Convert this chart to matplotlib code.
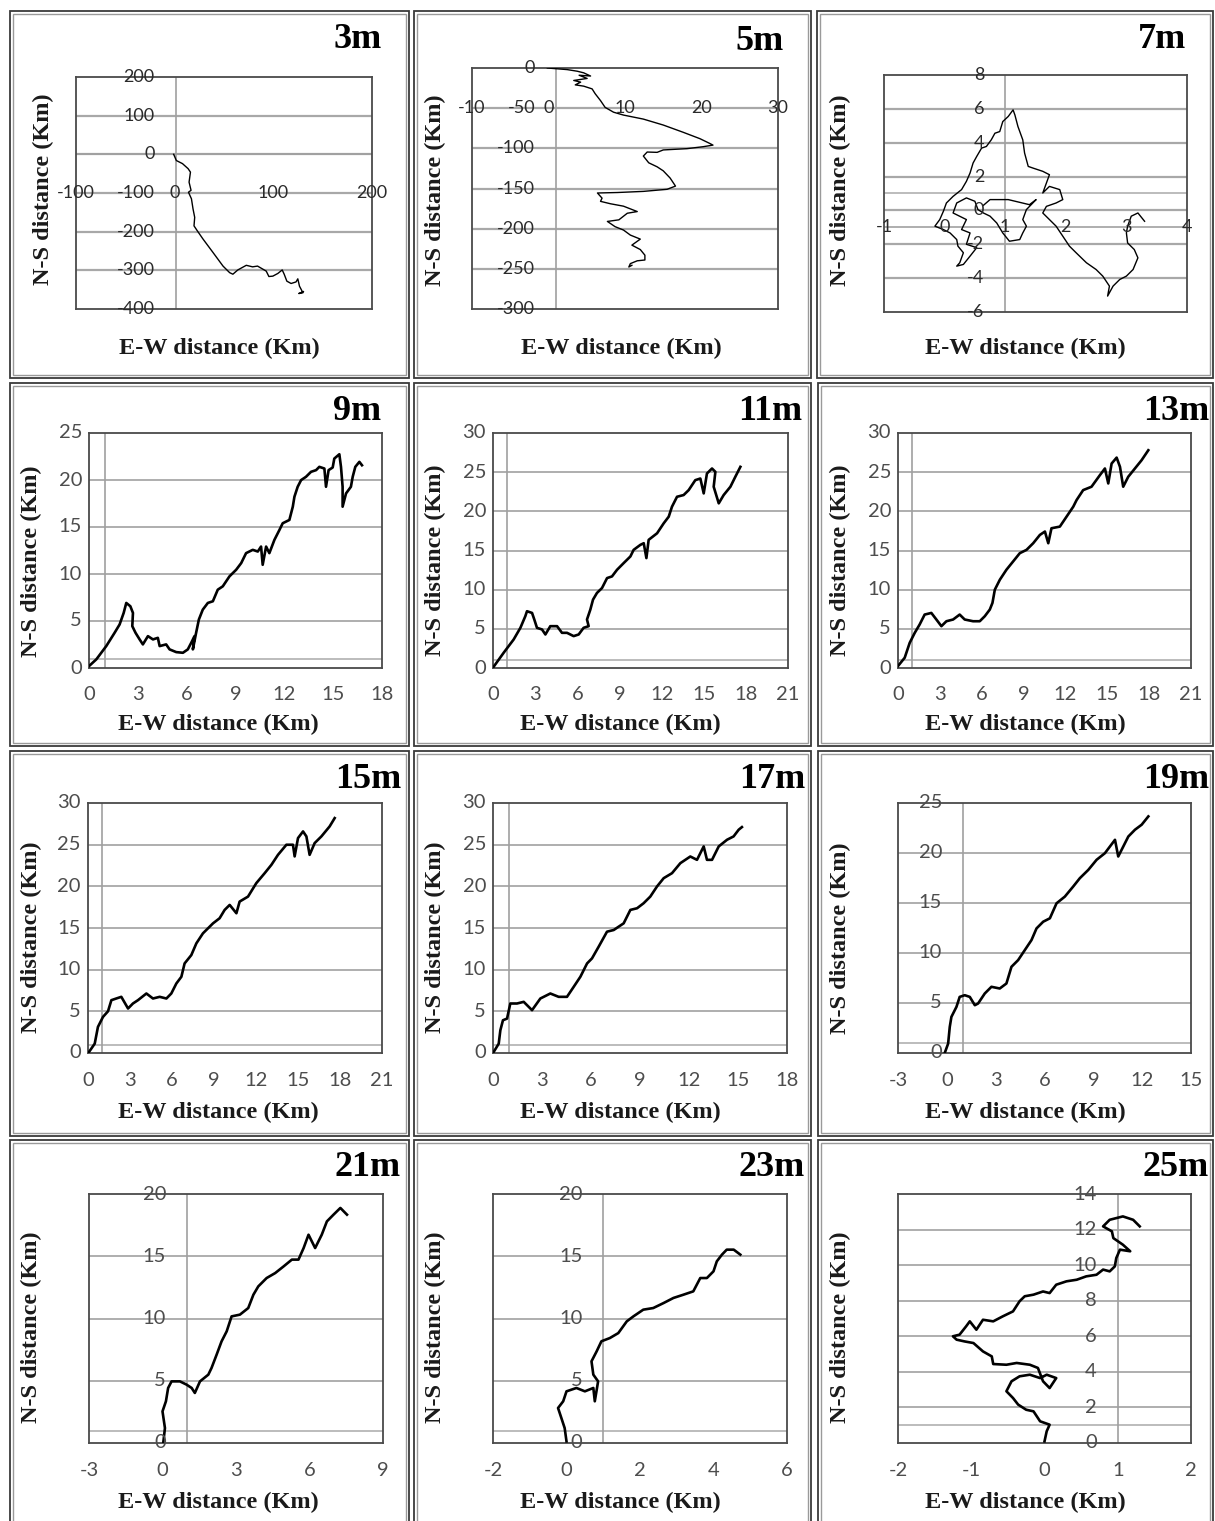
import matplotlib
matplotlib.use("Agg")
import matplotlib.pyplot as plt
from matplotlib.patches import Rectangle

# ---------------- data (E-W, N-S distance in Km) ----------------
panel_names = ["3m", "5m", "7m", "9m", "11m", "13m", "15m", "17m", "19m", "21m", "23m", "25m"]

ew_3m = [-1, 1.7, 7.9, 13.6, 16, 14.6, 16.6, 14, 17, 18.6, 20.3, 19.6, 23, 28.7, 38.9, 49, 55.7, 59, 64,
         72.6, 79, 84, 92.8, 95.5, 99.5, 104.6, 109, 111, 113.7, 118, 123, 124.8, 126.5, 130, 125.8, 130.5]
ns_3m = [0, -16, -24, -37, -46, -72, -93, -98, -115, -141, -163, -185, -198, -219, -254, -289, -306, -310, -299,
         -287, -291, -289, -302, -316, -315, -308, -299, -310, -328, -334, -330, -322, -341, -358, -360, -355]

ew_5m = [-0.15, 1.15, 2.45, 3.75, 4.6, 5.5, 4.0, 5.05, 3.3, 4.2, 3.5, 4.6, 5.7, 6.1, 6.8, 7.4, 8.5, 9.8, 12.4,
         15.0, 17.6, 19.8, 21.1, 21.5, 20.2, 18.1, 15.0, 14.2, 12.9, 12.4, 13.1, 14.2, 15.0, 15.9, 16.6, 15.5,
         12.4, 9.0, 6.4, 7.0, 6.8, 8.1, 9.8, 11.6, 10.3, 9.2, 7.7, 8.7, 9.8, 10.7, 12.0, 10.9, 12.0, 12.6, 12.6,
         11.6, 10.7, 10.5, 10.9]
ns_5m = [0, -1, -2, -4, -6, -10, -9, -13, -15.5, -17.6, -21, -22.6, -26, -32, -40.6, -49, -55, -58.6, -63.6,
         -71, -80, -88, -94, -96, -98, -100.4, -102, -105, -104.6, -109.6, -118, -123, -128, -137, -147, -151,
         -153.6, -155, -155.6, -162, -166, -169, -172, -178.7, -180.8, -189, -191, -197.5, -201.7, -208, -213,
         -220.5, -226, -233, -239, -240, -243.5, -247.7, -245.6]

ew_7m = [3.30, 3.19, 3.08, 3.02, 3.00, 3.02, 3.13, 3.19, 3.11, 3.00, 2.89, 2.78, 2.69, 2.72, 2.61, 2.50, 2.34,
         2.17, 2.06, 1.95, 1.84, 1.73, 1.62, 1.68, 1.84, 1.95, 1.90, 1.73, 1.62, 1.73,
         1.62, 1.46, 1.38, 1.32, 1.29, 1.21, 1.16, 1.13, 1.05, 0.96, 0.91, 0.83, 0.77, 0.69, 0.61, 0.53, 0.47,
         0.42, 0.36, 0.28, 0.14, 0.03, -0.02, -0.08, -0.16, -0.02, 0.09, 0.20, 0.22, 0.31, 0.25, 0.20, 0.31,
         0.42, 0.53, 0.36, 0.42, 0.28, 0.36, 0.14, 0.20, 0.36, 0.50, 0.55, 0.64, 0.75, 0.86, 0.96, 1.07, 1.24,
         1.29, 1.35, 1.29, 1.35, 1.51, 1.40, 1.05, 0.75, 0.64]
ns_7m = [-0.64, -0.15, -0.34, -0.93, -1.33, -1.92, -2.31, -2.80, -3.49, -3.88, -4.08, -4.47, -5.06, -4.47,
         -3.88, -3.49, -3.09, -2.50, -2.11, -1.52, -0.93, -0.54, -0.15, 0.24, 0.44, 0.64, 1.23, 1.42, 1.03, 2.11,
         2.31, 2.50, 2.60, 3.39, 4.17, 4.96, 5.64, 5.94, 5.55, 5.25, 4.66, 4.56, 4.17, 3.78, 3.68, 3.19, 2.80,
         2.21, 1.72, 1.23, 0.83, 0.44, -0.05, -0.54, -0.93, -1.13, -1.33, -1.72, -2.11, -2.50, -3.09, -3.29,
         -3.19, -2.70, -2.20, -2.00, -1.33, -1.13, -0.54, -0.15, 0.44, 0.74, 0.54, 0.05, -0.15, -0.34, -0.74,
         -1.33, -1.82, -1.72, -1.33, -0.93, -0.54, 0.05, 0.64, 0.34, 0.64, 0.64, 0.30]

ew_9m = [0, 0.45, 1.06, 1.57, 1.88, 2.13, 2.29, 2.54, 2.70, 2.66, 2.86, 3.11, 3.31, 3.62, 3.93, 4.23, 4.34,
         4.74, 4.95, 5.36, 5.77, 6.07, 6.28, 6.48, 6.38, 6.58, 6.75, 6.99, 7.30, 7.61, 7.91, 8.22, 8.63, 9.04,
         9.35, 9.65, 10.06, 10.37, 10.57, 10.67, 10.88, 11.08, 11.39, 11.70, 11.90, 12.31, 12.52, 12.62, 12.82,
         13.03, 13.33, 13.64, 13.95, 14.15, 14.46, 14.56, 14.72, 14.97, 15.07, 15.38, 15.48, 15.58, 15.58,
         15.79, 16.09, 16.20, 16.36, 16.61, 16.77]
ns_9m = [0.2, 0.92, 2.33, 3.74, 4.63, 5.86, 6.92, 6.57, 5.86, 4.45, 3.74, 3.04, 2.51, 3.39, 3.04, 3.21, 2.33,
         2.51, 1.98, 1.69, 1.62, 1.98, 2.68, 3.39, 1.98, 3.74, 5.16, 6.21, 6.92, 7.10, 8.33, 8.69, 9.75, 10.45,
         11.16, 12.22, 12.57, 12.39, 12.92, 10.98, 12.92, 12.22, 13.63, 14.69, 15.40, 15.75, 17.16, 18.22,
         19.28, 19.99, 20.34, 20.87, 21.05, 21.40, 21.22, 19.28, 21.05, 21.33, 22.28, 22.74, 21.40, 19.28,
         17.16, 18.57, 19.28, 20.34, 21.40, 21.93, 21.57]

ew_11m = [0.05, 0.76, 1.47, 1.95, 2.30, 2.42, 2.78, 2.94, 3.13, 3.49, 3.73, 4.08, 4.56, 4.91, 5.27, 5.74, 6.10,
          6.45, 6.81, 6.69, 6.93, 7.12, 7.40, 7.76, 8.12, 8.47, 8.83, 9.30, 9.78, 10.01, 10.49, 10.73, 10.92,
          11.08, 11.68, 12.15, 12.51, 12.74, 13.10, 13.57, 13.93, 14.40, 14.76, 15.00, 15.23, 15.59, 15.83,
          15.71, 16.07, 16.42, 16.90, 17.25, 17.61]
ns_11m = [0.17, 1.95, 3.64, 5.13, 6.61, 7.25, 7.03, 6.19, 5.13, 4.92, 4.28, 5.34, 5.34, 4.49, 4.49, 4.07, 4.28,
          5.13, 5.34, 6.19, 7.46, 8.73, 9.58, 10.21, 11.48, 11.69, 12.54, 13.39, 14.24, 15.08, 15.72, 15.93,
          14.03, 16.36, 17.20, 18.47, 19.32, 20.59, 21.86, 22.08, 22.71, 23.98, 24.19, 22.29, 24.83, 25.47,
          25.04, 23.14, 21.02, 22.08, 23.14, 24.41, 25.68]

ew_13m = [0, 0.48, 0.84, 1.20, 1.55, 1.91, 2.39, 2.75, 3.11, 3.47, 3.95, 4.42, 4.78, 5.38, 5.86, 6.22, 6.58,
          6.77, 6.94, 7.30, 7.77, 8.25, 8.73, 9.21, 9.69, 10.17, 10.53, 10.77, 11.00, 11.60, 12.08, 12.56, 12.80,
          13.27, 13.87, 14.47, 14.83, 15.07, 15.31, 15.67, 15.91, 16.14, 16.50, 16.98, 17.46, 17.94]
ns_13m = [0.25, 1.31, 3.22, 4.49, 5.55, 6.82, 7.03, 6.19, 5.34, 5.97, 6.19, 6.82, 6.19, 5.97, 5.97, 6.61, 7.46,
          8.31, 10.00, 11.27, 12.54, 13.60, 14.66, 15.08, 15.93, 16.99, 17.42, 15.93, 17.84, 18.05, 19.32, 20.59,
          21.44, 22.71, 23.14, 24.62, 25.47, 23.56, 26.10, 26.86, 25.68, 23.14, 24.41, 25.47, 26.53, 27.80]

ew_15m = [0.07, 0.48, 0.71, 1.07, 1.43, 1.67, 2.02, 2.38, 2.86, 3.21, 3.57, 4.17, 4.64, 5.12, 5.60, 5.95, 6.31,
          6.67, 6.90, 7.38, 7.74, 8.21, 8.93, 9.40, 9.76, 10.12, 10.60, 10.83, 11.43, 12.02, 12.62, 13.10, 13.57,
          14.17, 14.64, 14.76, 15.00, 15.36, 15.60, 15.83, 16.19, 16.67, 17.26, 17.62]
ns_15m = [0.12, 1.12, 3.13, 4.33, 5.01, 6.34, 6.54, 6.74, 5.34, 5.94, 6.34, 7.14, 6.54, 6.74, 6.54, 7.14, 8.34,
          9.15, 10.75, 11.75, 13.16, 14.36, 15.56, 16.17, 17.17, 17.77, 16.77, 18.17, 18.77, 20.38, 21.58, 22.58,
          23.78, 24.99, 24.99, 23.59, 25.79, 26.59, 25.99, 23.78, 25.19, 25.99, 27.19, 28.19]

ew_17m = [0.04, 0.35, 0.45, 0.61, 0.86, 1.06, 1.47, 1.88, 2.39, 2.90, 3.51, 4.02, 4.53, 4.94, 5.35, 5.76, 6.06,
          6.47, 6.98, 7.39, 8.00, 8.41, 8.82, 9.22, 9.63, 10.04, 10.45, 10.96, 11.47, 12.08, 12.49, 12.90, 13.10,
          13.41, 13.82, 14.33, 14.73, 15.04, 15.24]
ns_17m = [0.12, 1.12, 2.73, 3.93, 4.13, 5.94, 5.94, 6.14, 5.14, 6.54, 7.14, 6.74, 6.74, 7.94, 9.15, 10.75, 11.35,
          12.76, 14.56, 14.76, 15.56, 17.17, 17.37, 17.97, 18.77, 19.98, 20.98, 21.58, 22.78, 23.58, 23.18, 24.79,
          23.18, 23.18, 24.79, 25.59, 25.99, 26.79, 27.11]

ew_19m = [-0.13, 0.08, 0.18, 0.28, 0.59, 0.79, 1.10, 1.41, 1.72, 1.92, 2.33, 2.74, 3.25, 3.66, 3.97, 4.38, 4.79,
          5.20, 5.51, 5.92, 6.33, 6.74, 7.25, 7.76, 8.17, 8.69, 9.20, 9.71, 10.02, 10.33, 10.53, 10.84, 11.15,
          11.56, 11.97, 12.38]
ns_19m = [0, 0.94, 2.61, 3.61, 4.61, 5.61, 5.78, 5.61, 4.78, 4.95, 5.95, 6.62, 6.45, 6.95, 8.62, 9.29, 10.29,
          11.29, 12.46, 13.13, 13.47, 14.97, 15.64, 16.64, 17.48, 18.31, 19.32, 19.98, 20.65, 21.32, 19.65, 20.65,
          21.65, 22.33, 22.83, 23.66]

ew_21m = [0.03, 0.10, 0.00, 0.14, 0.23, 0.37, 0.71, 0.98, 1.19, 1.32, 1.53, 1.87, 2.00, 2.21, 2.41, 2.62, 2.82,
          3.16, 3.50, 3.71, 3.91, 4.25, 4.60, 4.94, 5.28, 5.55, 5.76, 5.96, 6.23, 6.50, 6.71, 6.98, 7.26, 7.53]
ns_21m = [0, 1.20, 2.54, 3.35, 4.42, 4.95, 4.95, 4.69, 4.42, 4.02, 4.95, 5.49, 6.02, 7.10, 8.16, 8.97, 10.17,
          10.31, 10.84, 11.91, 12.58, 13.25, 13.65, 14.18, 14.73, 14.73, 15.66, 16.73, 15.66, 16.73, 17.80, 18.34,
          18.88, 18.34]

ew_23m = [0.00, -0.05, -0.14, -0.23, -0.09, 0.00, 0.27, 0.50, 0.73, 0.77, 0.86, 0.73, 0.68, 0.82, 0.95, 1.18,
          1.41, 1.64, 1.82, 2.09, 2.36, 2.64, 2.91, 3.18, 3.45, 3.64, 3.82, 4.00, 4.09, 4.23, 4.36, 4.55, 4.73]
ns_23m = [0.13, 1.20, 2.01, 2.81, 3.35, 4.15, 4.42, 4.15, 4.42, 3.35, 4.95, 5.49, 6.56, 7.36, 8.17, 8.43, 8.83,
          9.77, 10.17, 10.71, 10.84, 11.24, 11.65, 11.91, 12.18, 13.25, 13.25, 13.79, 14.59, 15.13, 15.53, 15.53,
          15.13]

ew_25m = [0.00, 0.03, 0.07, -0.06, -0.15, -0.25, -0.36, -0.43, -0.52, -0.45, -0.34, -0.20, -0.06, 0.03, 0.16,
          0.07, -0.02, -0.09, -0.20, -0.38, -0.52, -0.70, -0.72, -0.84, -0.97, -1.09, -1.20, -1.25, -1.16, -1.07,
          -1.02, -0.93, -0.84, -0.70, -0.57, -0.43, -0.34, -0.27, -0.15, -0.02, 0.07, 0.16, 0.30, 0.44, 0.57,
          0.71, 0.80, 0.89, 0.96, 0.98, 1.03, 1.17, 1.07, 0.94, 0.92, 0.80, 0.89, 1.07, 1.21, 1.30]
ns_25m = [0.09, 0.66, 1.03, 1.22, 1.78, 1.87, 2.16, 2.53, 2.91, 3.47, 3.75, 3.84, 3.65, 3.84, 3.65, 3.09, 3.47,
          4.22, 4.40, 4.50, 4.40, 4.44, 4.87, 5.15, 5.62, 5.71, 5.81, 6.00, 6.09, 6.56, 6.84, 6.37, 6.93, 6.84,
          7.12, 7.40, 7.97, 8.25, 8.34, 8.52, 8.43, 8.90, 9.09, 9.18, 9.37, 9.46, 9.75, 9.65, 9.93, 10.40, 10.87,
          10.78, 11.15, 11.52, 11.90, 12.18, 12.55, 12.74, 12.55, 12.18]

ew_ticks_3m = [-100, 0, 100, 200]
ns_ticks_3m = [200, 100, 0, -100, -200, -300, -400]
ew_ticks_5m = [-10, 0, 10, 20, 30]
ns_ticks_5m = [0, -50, -100, -150, -200, -250, -300]
ew_ticks_7m = [-1, 0, 1, 2, 3, 4]
ns_ticks_7m = [8, 6, 4, 2, 0, -2, -4, -6]
ew_ticks_18 = [0, 3, 6, 9, 12, 15, 18]
ew_ticks_21 = [0, 3, 6, 9, 12, 15, 18, 21]
ns_ticks_25 = [0, 5, 10, 15, 20, 25]
ns_ticks_30 = [0, 5, 10, 15, 20, 25, 30]
ew_ticks_19m = [-3, 0, 3, 6, 9, 12, 15]
ew_ticks_21m = [-3, 0, 3, 6, 9]
ns_ticks_20 = [0, 5, 10, 15, 20]
ew_ticks_23m = [-2, 0, 2, 4, 6]
ew_ticks_25m = [-2, -1, 0, 1, 2]
ns_ticks_25m = [0, 2, 4, 6, 8, 10, 12, 14]

x_title = "E-W distance (Km)"
y_title = "N-S distance (Km)"

# ---------------- layout ----------------
W, H = 1215, 1521
fig = plt.figure(figsize=(W / 100, H / 100), dpi=100)
fig.patch.set_facecolor("white")

TICK_FONT = "Lato"
SERIF = "Liberation Serif"


def add_ax(l, t, r, b):
    return fig.add_axes([l / W, 1 - b / H, (r - l) / W, (b - t) / H])


def frame(l, t, r, b):
    fig.patches.append(Rectangle((l / W, 1 - b / H), (r - l) / W, (b - t) / H, transform=fig.transFigure,
                                 fill=False, ec="#3a3a3a", lw=1.3))
    d = 3
    fig.patches.append(Rectangle(((l + d) / W, 1 - (b - d) / H), (r - l - 2 * d) / W, (b - t - 2 * d) / H,
                                 transform=fig.transFigure, fill=False, ec="#9a9a9a", lw=1.0))


panels = [
    dict(ew=ew_3m, ns=ns_3m, box=(76, 77, 372, 309), xl=(-100, 200), yl=(-400, 200), xt=ew_ticks_3m,
         yt=ns_ticks_3m, xlab_y=-100, ylab="line", frame=(10, 11, 409, 378), title=(382, 40),
         xtl=(219, 348), ytl=(43, 189), lw=1.0, top=True, dark0=True),
    dict(ew=ew_5m, ns=ns_5m, box=(472, 68, 778, 309), xl=(-10, 30), yl=(-300, 0), xt=ew_ticks_5m,
         yt=ns_ticks_5m, xlab_y=-50, ylab="line", frame=(414, 11, 811, 378), title=(784, 42),
         xtl=(621, 348), ytl=(435, 190), lw=1.0, top=True),
    dict(ew=ew_7m, ns=ns_7m, box=(884, 75, 1187, 312), xl=(-1, 4), yl=(-6, 8), xt=ew_ticks_7m,
         yt=ns_ticks_7m, xlab_y=-1, ylab="line", frame=(817, 11, 1213, 378), title=(1186, 40),
         xtl=(1025, 348), ytl=(840, 190), lw=1.0, top=True, extra=[-1]),
    dict(ew=ew_9m, ns=ns_9m, box=(89, 433, 382, 668), xl=(0, 18), yl=(0, 25), xt=ew_ticks_18,
         yt=ns_ticks_25, xlab_y=None, ylab="left", frame=(10, 383, 409, 746), title=(381, 411),
         xtl=(218, 724), ytl=(31, 561), lw=1.9),
    dict(ew=ew_11m, ns=ns_11m, box=(493, 433, 788, 668), xl=(0, 21), yl=(0, 30), xt=ew_ticks_21,
         yt=ns_ticks_30, xlab_y=None, ylab="left", frame=(414, 383, 811, 746), title=(802, 411),
         xtl=(620, 724), ytl=(435, 560), lw=1.9),
    dict(ew=ew_13m, ns=ns_13m, box=(898, 433, 1191, 668), xl=(0, 21), yl=(0, 30), xt=ew_ticks_21,
         yt=ns_ticks_30, xlab_y=None, ylab="left", frame=(818, 383, 1213, 746), title=(1209, 411),
         xtl=(1025, 724), ytl=(840, 560), lw=1.9),
    dict(ew=ew_15m, ns=ns_15m, box=(88, 803, 382, 1053), xl=(0, 21), yl=(0, 30), xt=ew_ticks_21,
         yt=ns_ticks_30, xlab_y=None, ylab="left", frame=(10, 751, 409, 1136), title=(401, 779),
         xtl=(218, 1112), ytl=(31, 937), lw=1.9),
    dict(ew=ew_17m, ns=ns_17m, box=(493, 803, 787, 1053), xl=(0, 18), yl=(0, 30), xt=ew_ticks_18,
         yt=ns_ticks_30, xlab_y=None, ylab="left", frame=(414, 751, 811, 1136), title=(805, 779),
         xtl=(620, 1112), ytl=(435, 937), lw=1.9),
    dict(ew=ew_19m, ns=ns_19m, box=(898, 803, 1191, 1053), xl=(-3, 15), yl=(0, 25), xt=ew_ticks_19m,
         yt=ns_ticks_25, xlab_y=None, ylab="line", frame=(818, 751, 1213, 1136), title=(1209, 779),
         xtl=(1025, 1112), ytl=(840, 938), lw=1.9),
    dict(ew=ew_21m, ns=ns_21m, box=(89, 1194, 383, 1443), xl=(-3, 9), yl=(0, 20), xt=ew_ticks_21m,
         yt=ns_ticks_20, xlab_y=None, ylab="line", frame=(10, 1140, 409, 1530), title=(401, 1168),
         xtl=(218, 1502), ytl=(31, 1327), lw=1.9),
    dict(ew=ew_23m, ns=ns_23m, box=(493, 1194, 787, 1443), xl=(-2, 6), yl=(0, 20), xt=ew_ticks_23m,
         yt=ns_ticks_20, xlab_y=None, ylab="line", frame=(414, 1140, 811, 1530), title=(805, 1168),
         xtl=(620, 1502), ytl=(435, 1327), lw=1.9),
    dict(ew=ew_25m, ns=ns_25m, box=(898, 1194, 1191, 1443), xl=(-2, 2), yl=(0, 14), xt=ew_ticks_25m,
         yt=ns_ticks_25m, xlab_y=None, ylab="line", frame=(818, 1140, 1213, 1530), title=(1209, 1168),
         xtl=(1025, 1502), ytl=(840, 1327), lw=1.9),
]

for name, p in zip(panel_names, panels):
    frame(*p["frame"])
    ax = add_ax(*p["box"])
    ax.set_xlim(*p["xl"])
    ax.set_ylim(*p["yl"])
    ax.set_xticks([])
    ax.set_yticks([])
    for s in ax.spines.values():
        s.set_color("#4a4a4a")
        s.set_linewidth(1.3)
    top = p.get("top", False)
    ylo, yhi = p["yl"]
    # horizontal gridlines
    for v in p["yt"]:
        if ylo < v < yhi:
            ax.axhline(v, color="#a8a8a8", lw=1.6 if top else 1.3, zorder=1)
    for v in p.get("extra", []):
        ax.axhline(v, color="#a8a8a8", lw=1.3, zorder=1)
    if p.get("dark0", False):
        ax.axhline(0, color="#505050", lw=1.3, zorder=1)
    ax.axhline(1, color="#b0b0b0", lw=1.2, zorder=1)
    ax.axvline(1, color="#a0a0a0", lw=1.2, zorder=1)
    # trajectory
    ax.plot(p["ew"], p["ns"], color="black", lw=p["lw"], zorder=3, solid_joinstyle="round")

    fs = 13 if top else 14.5
    tcol = "#2a2a2a" if top else "#4d4d4d"
    # x tick labels
    for v in p["xt"]:
        if p["xlab_y"] is not None:
            ax.annotate(str(v), xy=(v, p["xlab_y"]), xycoords="data", ha="center", va="center",
                        fontsize=fs, color=tcol, family=TICK_FONT, annotation_clip=False, zorder=4)
        else:
            ax.annotate(str(v), xy=(v, 0), xycoords=("data", "axes fraction"), xytext=(0, -27),
                        textcoords="offset pixels", ha="center", va="center", fontsize=fs, color=tcol,
                        family=TICK_FONT, annotation_clip=False)
    # y tick labels
    for v in p["yt"]:
        if p["ylab"] == "line":
            ax.annotate(str(v), xy=(1, v), xycoords="data", xytext=(-21, 0), textcoords="offset pixels",
                        ha="right", va="center", fontsize=fs, color=tcol, family=TICK_FONT,
                        annotation_clip=False, zorder=4)
        else:
            ax.annotate(str(v), xy=(0, v), xycoords=("axes fraction", "data"), xytext=(-7, 0),
                        textcoords="offset pixels", ha="right", va="center", fontsize=fs, color=tcol,
                        family=TICK_FONT, annotation_clip=False)
    # titles
    tx, ty = p["title"]
    fig.text(tx / W, 1 - ty / H, name, ha="right", va="center", fontsize=26, fontweight="bold",
             family=SERIF, color="black")
    xx, xy = p["xtl"]
    fig.text(xx / W, 1 - xy / H, x_title, ha="center", va="center", fontsize=17.5, fontweight="bold",
             family=SERIF, color="#1a1a1a")
    yx, yy = p["ytl"]
    fig.text(yx / W, 1 - yy / H, y_title, ha="center", va="center", rotation=90, fontsize=17.5,
             fontweight="bold", family=SERIF, color="#1a1a1a")

fig.savefig("out.png", dpi=100, facecolor="white")
